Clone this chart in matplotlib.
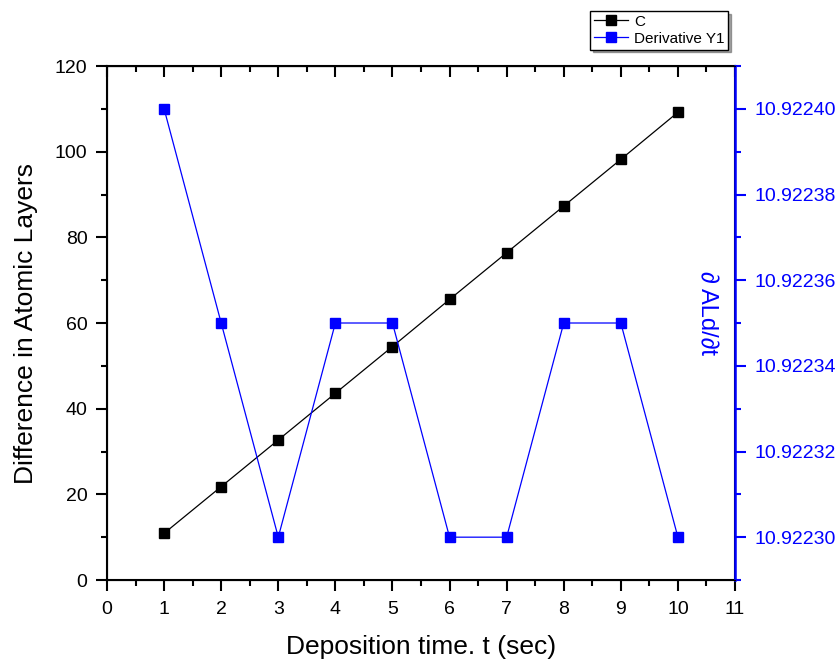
import matplotlib.pyplot as plt
from matplotlib.ticker import MultipleLocator, FormatStrFormatter

plt.rcParams['font.family'] = ['Liberation Sans', 'DejaVu Sans']

# data
time_s = [1, 2, 3, 4, 5, 6, 7, 8, 9, 10]
c_layers = [10.9, 21.8, 32.7, 43.6, 54.5, 65.5, 76.4, 87.3, 98.2, 109.2]
deriv_y1 = [10.92240, 10.92235, 10.92230, 10.92235, 10.92235,
            10.92230, 10.92230, 10.92235, 10.92235, 10.92230]

blue = "#0000ff"

fig = plt.figure(figsize=(8.4, 6.64), dpi=100)
ax = fig.add_axes([0.1274, 0.1265, 0.7476, 0.7741])
ax2 = ax.twinx()

l1, = ax.plot(time_s, c_layers, color="black", linewidth=0.9,
              marker="s", markersize=7, label="C")
l2, = ax2.plot(time_s, deriv_y1, color=blue, linewidth=0.9,
               marker="s", markersize=7, label="Derivative Y1")

#----------left / bottom axes----------
ax.set_xlim(0, 11)
ax.set_ylim(0, 120)
ax.xaxis.set_major_locator(MultipleLocator(1))
ax.xaxis.set_minor_locator(MultipleLocator(0.5))
ax.yaxis.set_major_locator(MultipleLocator(20))
ax.yaxis.set_minor_locator(MultipleLocator(10))
ax.tick_params(axis="both", which="both", direction="out", top=False,
               labelsize=14, width=1.5)
ax.tick_params(which="major", length=8)
ax.tick_params(which="minor", length=4)
ax.tick_params(axis="x", which="major", pad=7)
ax.tick_params(axis="y", which="major", pad=6)
ax.set_xlabel("Deposition time. t (sec)", fontsize=19, labelpad=12)
ax.set_ylabel("Difference in Atomic Layers", fontsize=19, labelpad=12)
for s in ax.spines.values():
    s.set_linewidth(1.5)

# top ticks point inwards
sec = ax.secondary_xaxis("top")
sec.xaxis.set_major_locator(MultipleLocator(1))
sec.xaxis.set_minor_locator(MultipleLocator(0.5))
sec.tick_params(which="both", direction="in", labeltop=False, width=1.5)
sec.tick_params(which="major", length=8)
sec.tick_params(which="minor", length=4)

#----------right axis----------
ax2.set_ylim(10.92229, 10.92241)
ax2.yaxis.set_major_locator(MultipleLocator(0.00002))
ax2.yaxis.set_minor_locator(MultipleLocator(0.00001))
ax2.yaxis.set_major_formatter(FormatStrFormatter("%.5f"))
ax2.tick_params(axis="y", which="both", direction="out", colors=blue,
                labelsize=14, width=1.5)
ax2.tick_params(which="major", length=8, pad=6)
ax2.tick_params(which="minor", length=4)
ax2.spines["right"].set_color(blue)
ax2.spines["right"].set_linewidth(1.8)
ax2.set_ylabel("\u2202 ALd/\u2202t", color=blue, fontsize=17, rotation=270,
               va="center")
ax2.yaxis.set_label_coords(0.955, 0.52)

leg = fig.legend([l1, l2], ["C", "Derivative Y1"], loc="upper right",
                 bbox_to_anchor=(0.876, 0.995), fontsize=11, frameon=True,
                 fancybox=False, shadow=True, handlelength=2.2,
                 borderpad=0.25, labelspacing=0.2, handletextpad=0.4)
leg.get_frame().set_edgecolor("black")

fig.savefig("out.png", dpi=100)
